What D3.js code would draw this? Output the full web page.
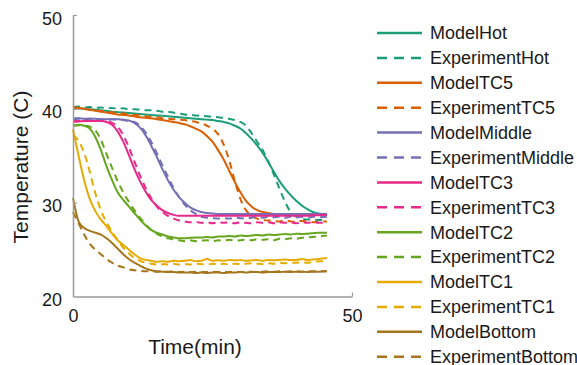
<!DOCTYPE html>
<html>
<head>
<meta charset="utf-8">
<script src="https://cdn.jsdelivr.net/npm/d3@7"></script>
<style>
  body { margin: 0; background: #fff; }
  text { font-family: "Liberation Sans", Arial, sans-serif; fill: #1a1a1a; }
</style>
</head>
<body>
<div id="chart"></div>
<script>
// time in minutes, shared by every series
var times = [0,1,2,3,4,5,6,7,8,9,10,11,12,13,14,15,16,17,18,19,20,21,22,23,24,25,26,27,28,29,30,31,32,33,34,35,36,37,38,39,40,41,42,43,44,45.5];

var hotModel = [40.1,40.05,40.0,39.95,39.9,39.85,39.8,39.7,39.65,39.6,
  39.55,39.5,39.45,39.4,39.35,39.3,39.25,39.2,39.15,39.1,
  39.05,39.0,38.95,38.9,38.85,38.8,38.7,38.6,38.45,38.2,
  37.9,37.4,36.8,36.1,35.3,34.3,33.3,32.3,31.5,30.8,
  30.2,29.7,29.3,29.0,28.85,28.75];
var hotExp = [40.2,40.25,40.15,40.2,40.1,40.15,40.05,40.1,40.0,40.05,
  39.95,39.95,39.9,39.85,39.85,39.8,39.7,39.7,39.6,39.5,
  39.4,39.35,39.3,39.25,39.2,39.15,39.1,39.05,38.95,38.8,
  38.6,38.2,37.4,36.5,35.6,34.4,33.0,31.5,30.1,29.0,
  28.5,28.3,28.2,28.2,28.15,28.2];
var tc5Model = [40.2,40.1,40.0,39.9,39.8,39.7,39.6,39.5,39.4,39.35,
  39.3,39.2,39.1,39.05,39.0,38.9,38.8,38.7,38.6,38.5,
  38.35,38.15,37.9,37.6,37.1,36.5,35.6,34.6,33.4,32.2,
  31.1,30.2,29.6,29.2,29.0,28.9,28.8,28.75,28.75,28.7,
  28.7,28.7,28.7,28.7,28.7,28.7];
var tc5Exp = [40.1,40.05,40.0,39.9,39.85,39.8,39.7,39.65,39.55,39.5,
  39.4,39.35,39.3,39.2,39.15,39.1,39.0,38.95,38.9,38.85,
  38.8,38.7,38.6,38.45,38.2,37.9,37.3,36.2,34.5,32.3,
  30.4,29.2,28.6,28.3,28.15,28.1,28.05,28.0,28.1,28.0,
  27.95,28.05,28.0,27.9,28.0,28.0];
var middleModel = [39.0,39.0,38.95,38.95,38.95,38.9,38.9,38.9,38.9,38.85,
  38.75,38.5,38.0,37.2,36.1,34.9,33.6,32.4,31.4,30.6,
  30.0,29.5,29.2,29.0,28.9,28.85,28.8,28.8,28.8,28.8,
  28.8,28.8,28.8,28.8,28.8,28.8,28.8,28.8,28.8,28.8,
  28.8,28.8,28.8,28.8,28.8,28.8];
var middleExp = [38.9,38.95,38.9,38.95,38.9,38.9,38.85,38.9,38.85,38.8,
  38.7,38.6,38.2,37.5,36.5,35.3,34.0,32.8,31.6,30.6,
  29.8,29.2,28.8,28.5,28.4,28.35,28.3,28.35,28.3,28.4,
  28.35,28.3,28.4,28.5,28.4,28.5,28.45,28.5,28.4,28.5,
  28.45,28.5,28.4,28.5,28.45,28.5];
var tc3Model = [38.6,38.65,38.7,38.7,38.7,38.7,38.6,38.3,37.6,36.5,
  35.1,33.6,32.3,31.2,30.3,29.7,29.2,28.9,28.7,28.6,
  28.6,28.6,28.6,28.6,28.6,28.6,28.6,28.6,28.6,28.6,
  28.6,28.6,28.6,28.6,28.6,28.6,28.6,28.6,28.6,28.6,
  28.6,28.6,28.6,28.65,28.65,28.7];
var tc3Exp = [38.7,38.7,38.75,38.7,38.75,38.7,38.7,38.5,38.1,37.2,
  35.9,34.4,32.9,31.6,30.5,29.6,29.0,28.6,28.3,28.1,
  28.0,27.9,27.95,27.85,27.9,27.8,27.9,27.85,27.9,27.8,
  27.9,27.85,27.8,27.9,27.85,27.9,27.8,27.9,27.85,27.9,
  27.8,27.9,27.85,27.9,27.85,27.9];
var tc2Model = [38.2,38.3,38.2,37.9,37.0,35.6,33.9,32.4,31.1,30.3,
  29.6,28.9,28.2,27.6,27.1,26.8,26.6,26.4,26.3,26.2,
  26.2,26.25,26.3,26.3,26.35,26.3,26.4,26.4,26.45,26.4,
  26.5,26.45,26.5,26.55,26.5,26.6,26.55,26.6,26.65,26.6,
  26.7,26.65,26.7,26.75,26.8,26.8];
var tc2Exp = [38.2,38.25,38.2,38.1,37.7,36.7,35.2,33.7,32.3,31.1,
  30.1,29.2,28.4,27.7,27.1,26.7,26.4,26.2,26.1,26.0,
  25.9,26.0,25.9,25.95,26.0,25.9,26.0,25.95,26.05,25.95,
  26.0,26.05,26.0,26.1,26.05,26.1,26.0,26.15,26.1,26.2,
  26.15,26.25,26.3,26.35,26.4,26.5];
var tc1Model = [37.8,35.0,32.4,30.4,29.1,28.2,27.5,26.7,26.0,25.5,
  25.0,24.5,24.1,23.9,23.8,23.7,23.75,23.7,23.8,23.75,
  23.8,23.9,23.75,23.8,24.0,23.8,23.85,23.8,23.9,23.85,
  23.9,23.8,23.85,23.9,23.8,23.9,23.85,23.9,23.95,23.9,
  23.9,24.0,23.9,23.95,24.0,24.1];
var tc1Exp = [37.2,36.6,35.3,33.3,31.0,29.2,27.9,26.9,26.0,25.2,
  24.6,24.1,23.8,23.6,23.5,23.4,23.45,23.4,23.5,23.4,
  23.45,23.4,23.5,23.45,23.4,23.5,23.45,23.5,23.4,23.5,
  23.45,23.5,23.55,23.5,23.45,23.55,23.5,23.6,23.55,23.6,
  23.6,23.65,23.6,23.7,23.75,23.8];
var bottomModel = [30.5,28.0,27.3,27.0,26.8,26.6,26.2,25.7,25.1,24.5,
  24.0,23.6,23.3,23.0,22.8,22.7,22.65,22.6,22.6,22.55,
  22.55,22.55,22.5,22.55,22.5,22.55,22.55,22.5,22.55,22.55,
  22.6,22.55,22.6,22.6,22.55,22.6,22.6,22.6,22.65,22.6,
  22.65,22.65,22.6,22.65,22.65,22.7];
var bottomExp = [29.0,27.8,26.6,25.6,25.0,24.5,24.0,23.6,23.3,23.1,
  22.9,22.8,22.75,22.7,22.7,22.65,22.7,22.65,22.7,22.6,
  22.65,22.6,22.65,22.6,22.6,22.65,22.6,22.65,22.6,22.65,
  22.6,22.65,22.65,22.6,22.65,22.7,22.65,22.7,22.65,22.7,
  22.7,22.65,22.7,22.7,22.7,22.7];

var seriesNames = ["ModelHot","ExperimentHot","ModelTC5","ExperimentTC5","ModelMiddle","ExperimentMiddle",
  "ModelTC3","ExperimentTC3","ModelTC2","ExperimentTC2","ModelTC1","ExperimentTC1","ModelBottom","ExperimentBottom"];
var seriesValues = [hotModel,hotExp,tc5Model,tc5Exp,middleModel,middleExp,
  tc3Model,tc3Exp,tc2Model,tc2Exp,tc1Model,tc1Exp,bottomModel,bottomExp];
var xTicks = [0, 50];
var yTicks = [20, 30, 40, 50];

var width = 577, height = 365;
var svg = d3.select("#chart")
  .append("svg")
    .attr("width", width)
    .attr("height", height);

var x = d3.scaleLinear()
  .domain([0, 50])
  .range([73, 352]);
var y = d3.scaleLinear()
  .domain([20, 50])
  .range([296.5, 15]);

// Dark2 colours, one per location, model + experiment share it
var color = function(i) { return d3.schemeDark2[Math.floor(i / 2)]; };

var line = d3.line()
  .x(function(d, i) { return x(times[i]); })
  .y(function(d) { return y(d); })
  .curve(d3.curveMonotoneX);

svg.append("g")
  .selectAll("path")
  .data(seriesValues)
  .enter()
  .append("path")
    .attr("d", line)
    .attr("fill", "none")
    .attr("stroke", function(d, i) { return color(i); })
    .attr("stroke-width", 2)
    .attr("stroke-dasharray", function(d, i) { return i % 2 ? "7,5" : null; });

// Axes
var xAxis = svg.append("g")
  .attr("transform", "translate(0," + y(20) + ")")
  .call(d3.axisBottom(x).tickValues(xTicks).tickSizeInner(-4).tickSizeOuter(0).tickPadding(13));
var yAxis = svg.append("g")
  .attr("transform", "translate(" + x(0) + ",0)")
  .call(d3.axisLeft(y).tickValues(yTicks).tickSizeInner(-4).tickSizeOuter(0).tickPadding(11));

[xAxis, yAxis].forEach(function(g) {
  g.select(".domain").attr("stroke", "#9a9a9a").attr("stroke-width", 1.5);
  g.selectAll(".tick line").attr("stroke", "#9a9a9a").attr("stroke-width", 1.2);
  g.selectAll(".tick text")
    .style("font-family", "'Liberation Sans', Arial, sans-serif")
    .attr("font-size", 18)
    .attr("fill", "#1a1a1a");
});
yAxis.selectAll(".tick text").attr("dy", "0.5em");
yAxis.selectAll(".tick line").filter(function(d) { return d === 20; }).remove();
xAxis.selectAll(".tick line").filter(function(d) { return d === 0; }).remove();

// Axis titles
svg.append("text")
  .attr("transform", "translate(28,167) rotate(-90)")
  .attr("text-anchor", "middle")
  .attr("font-size", 21)
  .text("Temperature (C)");
svg.append("text")
  .attr("x", 195)
  .attr("y", 354)
  .attr("text-anchor", "middle")
  .attr("font-size", 21)
  .text("Time(min)");

// Legend
var legend = svg.append("g")
  .selectAll("g")
  .data(seriesNames)
  .enter()
  .append("g")
    .attr("transform", function(d, i) { return "translate(377," + (33 + i * 24.9) + ")"; });
legend.append("line")
  .attr("x1", 0)
  .attr("x2", 45)
  .attr("stroke", function(d, i) { return color(i); })
  .attr("stroke-width", 2.5)
  .attr("stroke-dasharray", function(d, i) { return i % 2 ? "10,7" : null; });
legend.append("text")
  .attr("x", 53)
  .attr("dy", "0.35em")
  .attr("font-size", 18)
  .text(function(d) { return d; });
</script>
</body>
</html>
